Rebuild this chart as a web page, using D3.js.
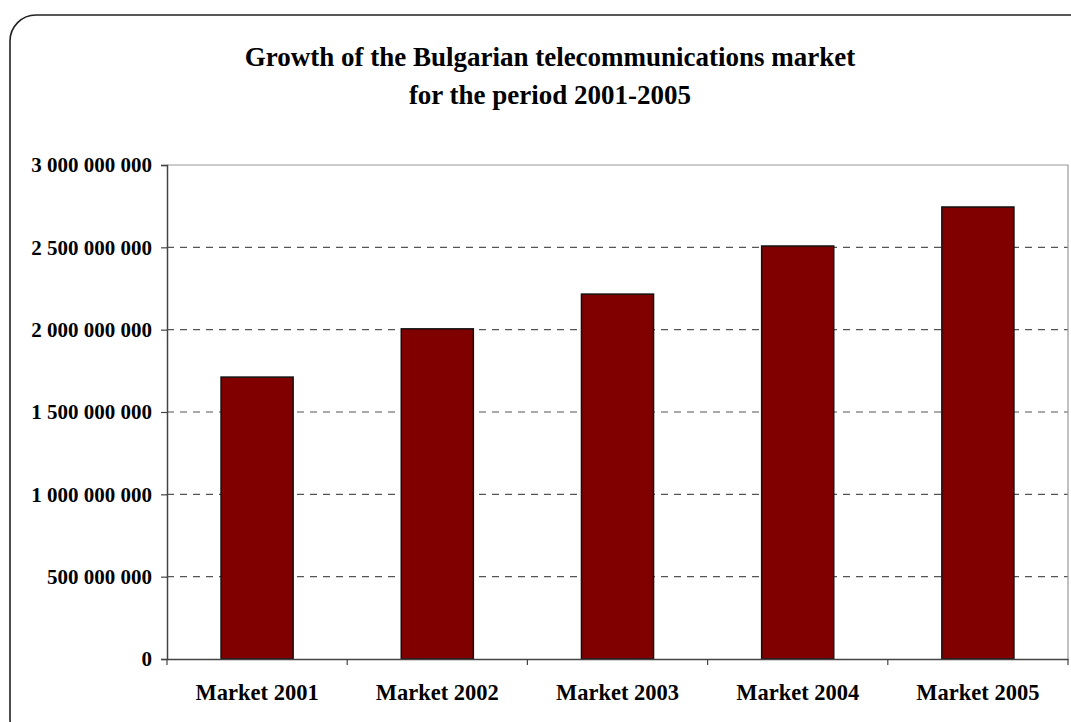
<!DOCTYPE html>
<html><head><meta charset="utf-8">
<script src="https://cdn.jsdelivr.net/npm/d3@7"></script>
<style>body{margin:0;background:#fff;}svg{display:block;}</style>
</head><body>
<svg id="c" width="1071" height="722"></svg>
<script>
const categories = ["Market 2001","Market 2002","Market 2003","Market 2004","Market 2005"];
const values = [1712000000, 2005000000, 2216000000, 2508000000, 2745000000];
const yTicks = [0, 500000000, 1000000000, 1500000000, 2000000000, 2500000000, 3000000000];
const titleLines = ["Growth of the Bulgarian telecommunications market", "for the period 2001-2005"];

const svg = d3.select("#c");
const font = "'Liberation Serif','Times New Roman',serif";
const m = {left:167, right:1068, top:165, bottom:659};

svg.append("rect").attr("x",10).attr("y",15).attr("width",1085).attr("height",730)
  .attr("rx",26).attr("fill","#fff").attr("stroke","#222").attr("stroke-width",1.6);

const x = d3.scaleBand().domain(categories).range([m.left,m.right]).paddingInner(0).paddingOuter(0);
const y = d3.scaleLinear().domain([0,3000000000]).range([m.bottom,m.top]);

// grid
svg.append("g").selectAll("line").data(yTicks.filter(d=>d>0 && d<3000000000)).join("line")
  .attr("x1",m.left).attr("x2",m.right).attr("y1",d=>y(d)).attr("y2",d=>y(d))
  .attr("stroke","#555").attr("stroke-width",1.2).attr("stroke-dasharray","7,6");
// plot border top/right
svg.append("path").attr("d",`M${m.left},${m.top}H${m.right}V${m.bottom}`)
  .attr("fill","none").attr("stroke","#999").attr("stroke-width",1.2);

// bars
const bw = x.bandwidth()*0.4;
svg.append("g").selectAll("rect").data(values).join("rect")
  .attr("x",(d,i)=>x(categories[i])+x.bandwidth()/2-bw/2)
  .attr("width",bw)
  .attr("y",d=>y(d)).attr("height",d=>y(0)-y(d))
  .attr("fill","#800000").attr("stroke","#111").attr("stroke-width",1.5);

// y axis
const fmt = v => d3.format(",")(v).replace(/,/g," ");
const ya = svg.append("g").attr("transform",`translate(${m.left},0)`)
  .call(d3.axisLeft(y).tickValues(yTicks).tickFormat(fmt).tickSize(6).tickPadding(9));
ya.select(".domain").attr("stroke","#444").attr("stroke-width",1.5);
ya.selectAll(".tick line").attr("stroke","#444").attr("stroke-width",1.2);
ya.selectAll(".tick text").attr("font-family",font).attr("font-weight","bold")
  .attr("font-size","21px").attr("fill","#000");

// x axis
const xa = svg.append("g").attr("transform",`translate(0,${m.bottom})`)
  .call(d3.axisBottom(x).tickSize(0).tickPadding(25));
xa.select(".domain").attr("stroke","#444").attr("stroke-width",1.5);
xa.selectAll(".tick text").attr("font-family",font).attr("font-weight","bold")
  .attr("font-size","22.5px").attr("fill","#000");
// boundary ticks
const bounds = categories.map(c=>x(c)).concat([m.right]);
svg.append("g").selectAll("line").data(bounds).join("line")
  .attr("x1",d=>d).attr("x2",d=>d).attr("y1",m.bottom).attr("y2",m.bottom+6)
  .attr("stroke","#444").attr("stroke-width",1.2);

// title
svg.append("g").selectAll("text").data(titleLines).join("text")
  .attr("x",550).attr("y",(d,i)=>66+i*38).attr("text-anchor","middle")
  .attr("font-family",font).attr("font-weight","bold").attr("font-size","27px")
  .attr("fill","#000").text(d=>d);
</script>
</body></html>
